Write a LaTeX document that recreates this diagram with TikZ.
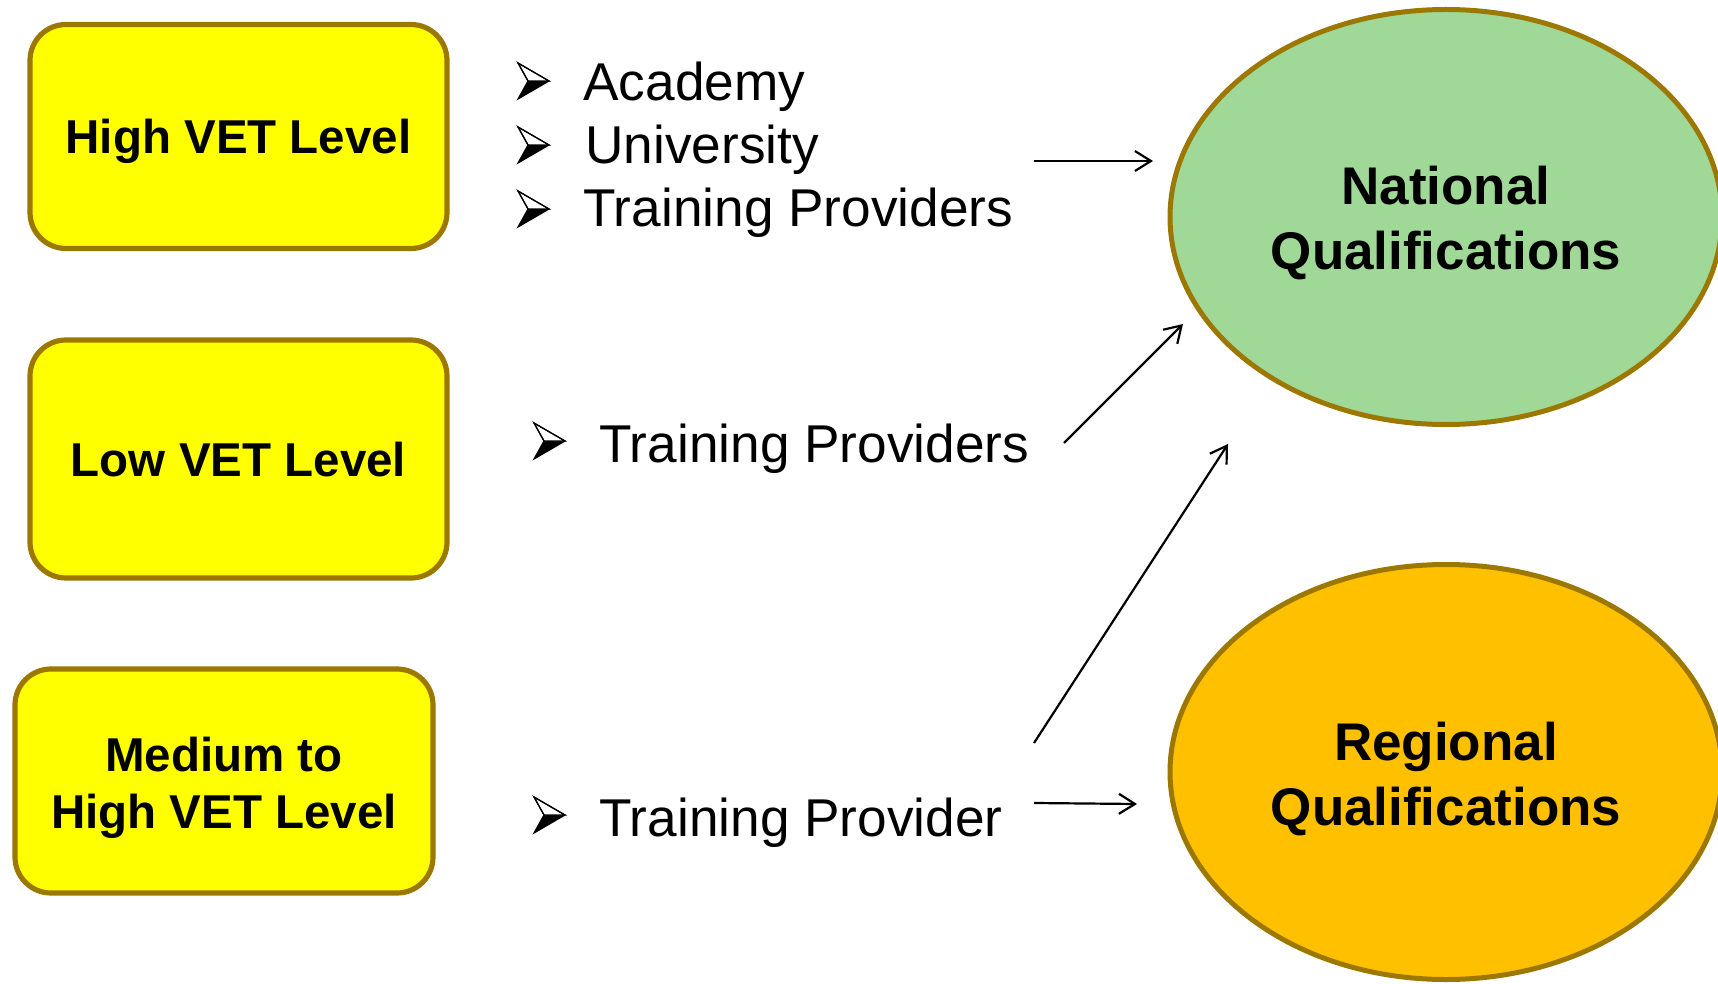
\documentclass[tikz,border=0pt]{standalone}
\usepackage{fontspec}
\setmainfont{Liberation Sans}
\usetikzlibrary{shapes.geometric,arrows.meta}
\definecolor{boxborder}{RGB}{156,120,0}
\definecolor{natgreen}{RGB}{160,216,152}
\definecolor{regorange}{RGB}{255,192,0}
\definecolor{boxyellow}{RGB}{255,255,0}
\begin{document}
\begin{tikzpicture}[x=0.5pt,y=-0.5pt,
  level/.style={draw=boxborder, line width=2.6pt, fill=boxyellow, rounded corners=18pt,
    inner sep=0pt, font=\fontsize{23.75}{28.5}\selectfont\bfseries, align=center},
  qual/.style={ellipse, draw=boxborder, line width=2.5pt, inner sep=0pt,
    minimum width=276pt, minimum height=207.5pt,
    font=\fontsize{26.5}{32.5}\selectfont\bfseries, align=center},
  item/.style={anchor=base west, inner sep=0pt, font=\fontsize{26.6}{32}\selectfont},
  conn/.style={line width=1.1pt, -{Straight Barb[length=8pt,width=10pt]}},
  bul/.pic={
    \fill[black] (10,0) -- (31,0) -- (0,18) -- cycle;
    \draw[line width=0.6pt, fill=white, line join=miter] (0,-18) -- (31,0) -- (10,0) -- cycle;
    \draw[line width=0.6pt, line join=miter] (0,-18) -- (31,0) -- (0,18) -- (10,0) -- cycle;
  }
]
\useasboundingbox (0,0) rectangle (1718,984);
\clip (0,0) rectangle (1718,984);

% left boxes
\node[level, minimum width=208.5pt, minimum height=112pt, text height=17pt, text depth=0pt]
  (level1) at (238.5,136.5) {High VET Level};
\node[level, minimum width=208.5pt, minimum height=119pt, text height=17pt, text depth=0pt]
  (level2) at (238.5,459) {Low VET Level};
\node[level, minimum width=209pt, minimum height=112pt]
  (level3) at (224,781) {\rule{0pt}{23.8pt}Medium to\\High VET Level};

% ellipses
\node[qual, fill=natgreen] (natq) at (1446,217) {\rule{0pt}{25.3pt}National\\Qualifications};
\node[qual, fill=regorange] (regq) at (1446,772) {\rule{0pt}{25.8pt}Regional\\Qualifications};

% bullet items
\pic at (518,81) {bul};
\node[item] (academy) at (583,101) {Academy};
\pic at (518,145) {bul};
\node[item] (university) at (585,164) {University};
\pic at (518,209) {bul};
\node[item] (trainprov1) at (583,227) {Training Providers};
\pic at (534,441) {bul};
\node[item] (trainprov2) at (599,462) {Training Providers};
\pic at (534,815) {bul};
\node[item] (trainprov3) at (599,836) {Training Provider};

% connectors
\coordinate (a1s) at (1034,161);
\coordinate (a1e) at (1153,161);
\coordinate (a2s) at (1064,443);
\coordinate (a2e) at (1183,324);
\coordinate (a3s) at (1034,743);
\coordinate (a3e) at (1228,444);
\coordinate (a4s) at (1034,803);
\coordinate (a4e) at (1137,804);
\draw[conn] (a1s) -- (a1e);
\draw[conn] (a2s) -- (a2e);
\draw[conn] (a3s) -- (a3e);
\draw[conn] (a4s) -- (a4e);
\end{tikzpicture}
\end{document}
